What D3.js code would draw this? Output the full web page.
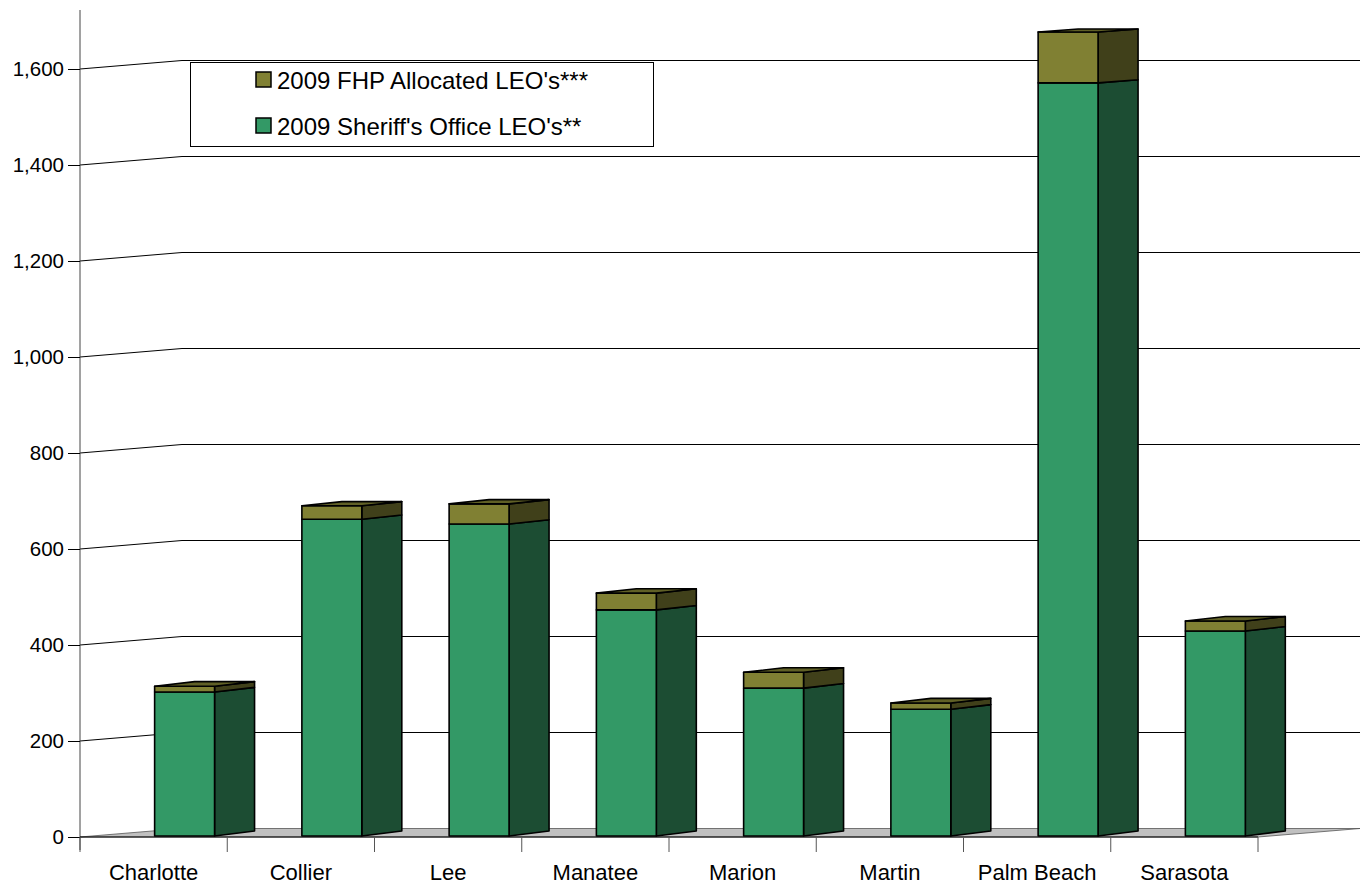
<!DOCTYPE html>
<html>
<head>
<meta charset="utf-8">
<script src="https://d3js.org/d3.v7.min.js"></script>
<style>
  html, body { margin: 0; padding: 0; background: #ffffff; }
  svg { display: block; font-family: "Liberation Sans", Arial, sans-serif; }
</style>
</head>
<body>
<svg id="chart" width="1360" height="884"></svg>
<script>
// County law enforcement officers, 2009
const counties = ["Charlotte", "Collier", "Lee", "Manatee", "Marion", "Martin", "Palm Beach", "Sarasota"];
const sheriffLEOs = [300, 660, 650, 471, 308, 264, 1569, 427];
const fhpLEOs = [12, 28, 42, 35, 33, 13, 106, 21];
const yTicks = [0, 200, 400, 600, 800, 1000, 1200, 1400, 1600];
const seriesNames = ["2009 FHP Allocated LEO's***", "2009 Sheriff's Office LEO's**"];

const colors = {
  sheriff: { front: "#339966", side: "#1c4d33", top: "#2a7a52" },
  fhp: { front: "#808033", side: "#40401a", top: "#606026" }
};

const svg = d3.select("#chart");

// Plot frame
const plotLeft = 80, plotRight = 1258, plotTop = 10, plotBottom = 837;
const wallDx = 102, wallDy = -8.5;      // offset of the back wall
const barDepth = 40;                     // horizontal depth of each column
const vpY = -1171, vpDist = 16060;       // vanishing point for column depth edges

const x = d3.scaleBand().domain(counties).range([plotLeft, plotRight]).padding(0);
const y = d3.scaleLinear().domain([0, 1600]).range([plotBottom, 69]);

// rise of a depth edge that starts at screen height py
const depthRise = py => -barDepth * (py - vpY) / vpDist;

// Back-wall gridlines with their perspective lead-in from the axis
const grid = svg.append("g").attr("stroke", "#000").attr("stroke-width", 1).attr("fill", "none");
yTicks.filter(t => t > 0).forEach(t => {
  const py = y(t);
  grid.append("path")
    .attr("d", `M${plotLeft},${py}L${plotLeft + wallDx},${py + wallDy}L1360,${py + wallDy}`);
});

// Floor
svg.append("path")
  .attr("d", `M${plotLeft},${plotBottom}L${plotRight},${plotBottom}L${plotRight + wallDx},${plotBottom + wallDy}L${plotLeft + wallDx},${plotBottom + wallDy}Z`)
  .attr("fill", "#c0c0c0")
  .attr("stroke", "#555")
  .attr("stroke-width", 0.8);

// Stacked 3D columns
const stackData = counties.map((c, i) => ({ county: c, sheriff: sheriffLEOs[i], fhp: fhpLEOs[i] }));
const stack = d3.stack().keys(["sheriff", "fhp"])(stackData);

const frontW = x.bandwidth() * 0.407;
const bars = svg.append("g").attr("stroke", "#000").attr("stroke-width", 1.6).attr("stroke-linejoin", "round");

stackData.forEach((d, i) => {
  const x0 = x(d.county) + x.bandwidth() / 2 + 1;
  const x1 = x0 + frontW;
  stack.forEach(layer => {
    const seg = layer[i];
    const yb = y(seg[0]) - 1, yt = y(seg[1]) - 1;
    const c = colors[layer.key];
    const rb = depthRise(yb), rt = depthRise(yt);
    // side face
    bars.append("path")
      .attr("d", `M${x1},${yb}L${x1 + barDepth},${yb + rb}L${x1 + barDepth},${yt + rt}L${x1},${yt}Z`)
      .attr("fill", c.side);
    // front face
    bars.append("path")
      .attr("d", `M${x0},${yb}L${x1},${yb}L${x1},${yt}L${x0},${yt}Z`)
      .attr("fill", c.front);
    // top face of the top segment
    if (layer.key === "fhp") {
      bars.append("path")
        .attr("d", `M${x0},${yt}L${x1},${yt}L${x1 + barDepth},${yt + rt}L${x0 + barDepth},${yt + rt}Z`)
        .attr("fill", c.top);
    }
  });
});

// Axes
const axisG = svg.append("g").attr("stroke", "#000").attr("stroke-width", 1);
axisG.append("line").attr("x1", plotLeft).attr("x2", plotLeft).attr("y1", plotTop).attr("y2", 850).attr("stroke", "#444");
axisG.append("line").attr("x1", plotLeft).attr("x2", plotRight).attr("y1", plotBottom).attr("y2", plotBottom);

const yAxis = d3.axisLeft(y).tickValues(yTicks).tickFormat(d3.format(",")).tickSize(12).tickPadding(4);
const yg = svg.append("g").attr("transform", `translate(${plotLeft},0)`).call(yAxis);
yg.select(".domain").remove();
yg.selectAll("text").attr("font-size", 20.5).attr("fill", "#000")
  .attr("font-family", "'Liberation Sans', Arial, sans-serif");
yg.selectAll("line").attr("stroke", "#000");

// Category separators below the axis
const sepG = svg.append("g").attr("stroke", "#555").attr("stroke-width", 1);
const bounds = counties.map(c => x(c)).concat([plotRight]);
bounds.forEach(bx => {
  sepG.append("line").attr("x1", bx).attr("x2", bx).attr("y1", plotBottom).attr("y2", 852);
});

svg.append("g").selectAll("text").data(counties).join("text")
  .attr("x", d => x(d) + x.bandwidth() / 2)
  .attr("y", 880)
  .attr("text-anchor", "middle")
  .attr("font-size", 22)
  .attr("fill", "#000")
  .text(d => d);

// Legend
const legend = svg.append("g");
legend.append("rect")
  .attr("x", 190.5).attr("y", 62.5).attr("width", 463).attr("height", 84)
  .attr("fill", "#fff").attr("stroke", "#000").attr("stroke-width", 1);
const legendColors = [colors.fhp.front, colors.sheriff.front];
seriesNames.forEach((name, i) => {
  const cy = 80 + i * 46;
  legend.append("rect")
    .attr("x", 256).attr("y", cy - 8).attr("width", 15).attr("height", 15)
    .attr("fill", legendColors[i]).attr("stroke", "#000").attr("stroke-width", 1.5);
  legend.append("text")
    .attr("x", 277).attr("y", cy + 8.5)
    .attr("font-size", 24).attr("fill", "#000")
    .text(name);
});
</script>
</body>
</html>
